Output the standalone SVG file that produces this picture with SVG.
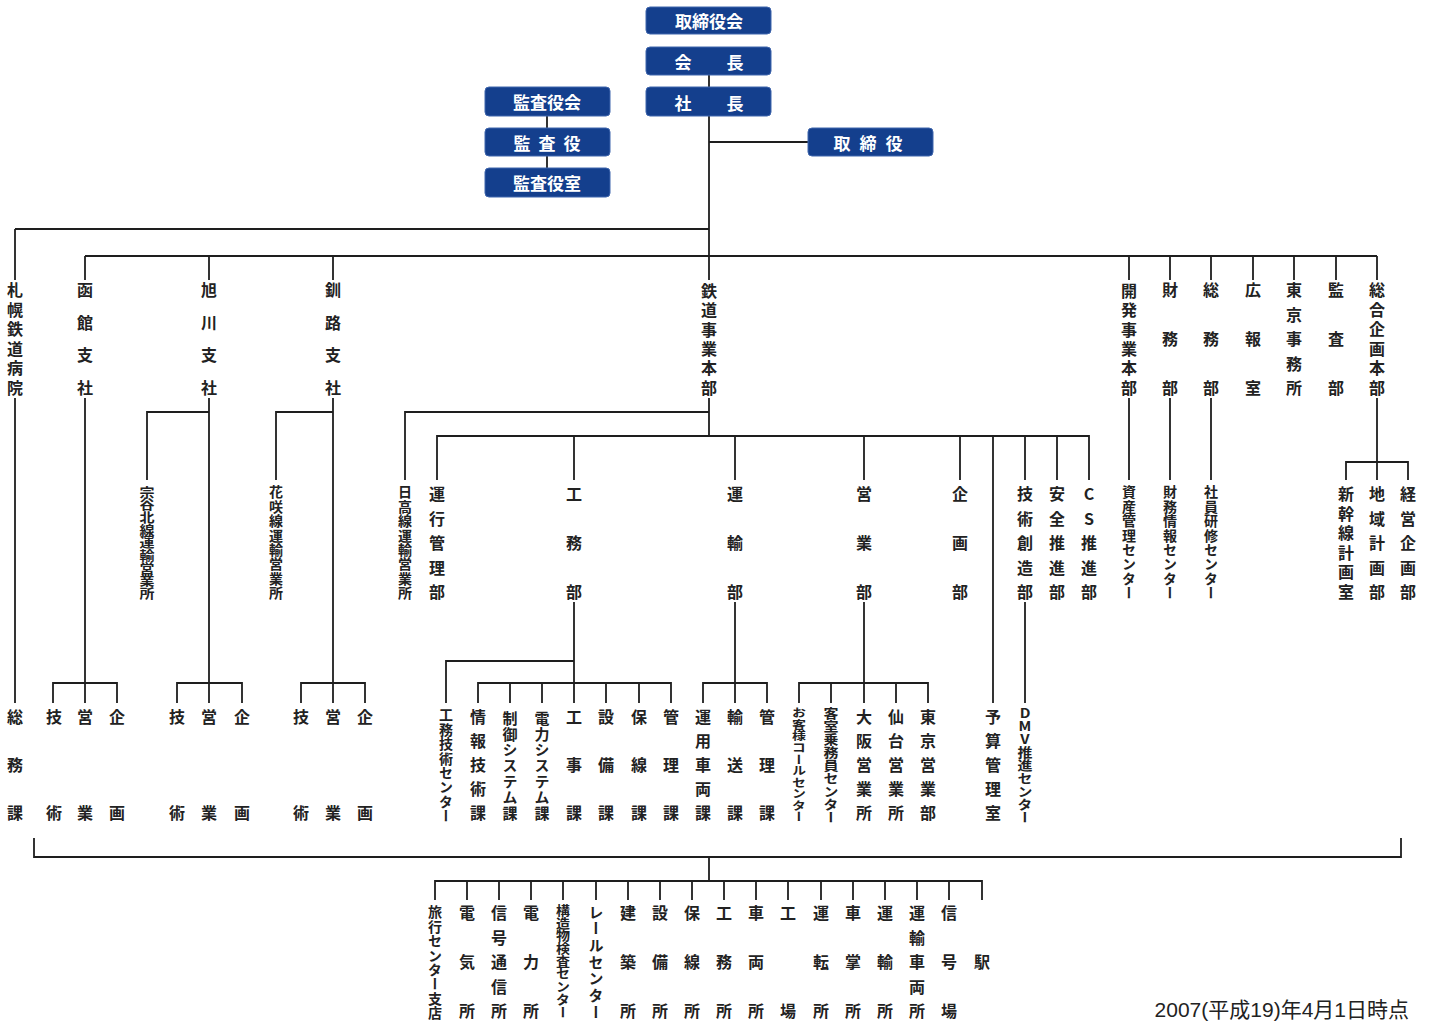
<svg xmlns="http://www.w3.org/2000/svg" width="1429" height="1021" viewBox="0 0 1429 1021">
<style>
.bx{fill:#143f8d;stroke:#3f66ad;stroke-width:1}
.bt{fill:#fff;font-family:"Noto Sans CJK JP",sans-serif;font-size:17px;font-weight:bold;text-anchor:middle;dominant-baseline:central}
.v{fill:#222;font-family:"Noto Sans CJK JP",sans-serif;font-size:16px;font-weight:bold;writing-mode:vertical-rl;text-orientation:upright}
.v tspan{letter-spacing:0}
.s14{font-size:14px}.s15{font-size:15px}
#connectors path{stroke:#1e1e1e;stroke-width:1.8;fill:none}
.ft{fill:#222;font-family:"Liberation Sans","Noto Sans CJK JP",sans-serif;font-size:21px;text-anchor:end}
</style>
<rect width="1429" height="1021" fill="#fff"/>
<g id="connectors">
<path d="M709 75V87M547 116V128M547 156V168M709 116V280M709 142H808M15 229H709M15 229V280M85 256H1377"/>
<path d="M85 256V280M209 256V280M333 256V280M1129 256V280M1170 256V280M1211 256V280M1253 256V280M1294 256V280M1336 256V280M1377 256V280"/>
<path d="M15 398V703M85 398V703M53 703V683H117V703M209 398V703M177 703V683H242V703M333 398V703M301 703V683H365V703"/>
<path d="M209 412H147V480M333 412H276V480M709 398V436M709 412H405V480M437 480V436H1089V480"/>
<path d="M574 436V480M735 436V480M864 436V480M960 436V480M993 436V703M1025 436V480M1057 436V480"/>
<path d="M1129 398V480M1170 398V480M1211 398V480M1377 398V480M1346 480V462H1408V480"/>
<path d="M574 602V703M446 703V661H574M478 703V683H671V703M510 683V703M542 683V703M606 683V703M639 683V703"/>
<path d="M735 602V703M703 703V683H767V703M864 602V703M799 703V683H928V703M831 683V703M896 683V703M1025 602V703"/>
<path d="M34 838V857H1401V838M709 857V881M435 900V881H982V900"/>
<path d="M467 881V900M499 881V900M531 881V900M563 881V900M596 881V900M628 881V900M660 881V900M692 881V900M724 881V900M756 881V900M788 881V900M821 881V900M853 881V900M885 881V900M917 881V900M949 881V900"/>
</g>
<g id="torishimariyakukai"><rect class="bx" x="646" y="7" width="125" height="27" rx="4"/><text class="bt" x="709" y="20.5">取締役会</text></g>
<g id="kaicho"><rect class="bx" x="646" y="47" width="125" height="28" rx="4"/><text class="bt" y="61"><tspan x="683">会</tspan><tspan x="735">長</tspan></text></g>
<g id="shacho"><rect class="bx" x="646" y="87" width="125" height="29" rx="4"/><text class="bt" y="101.5"><tspan x="683">社</tspan><tspan x="735">長</tspan></text></g>
<g id="kansayakukai"><rect class="bx" x="485" y="87" width="125" height="29" rx="4"/><text class="bt" x="547" y="101.5">監査役会</text></g>
<g id="kansayaku"><rect class="bx" x="485" y="128" width="125" height="28" rx="4"/><text class="bt" y="142"><tspan x="522">監</tspan><tspan x="547">査</tspan><tspan x="572">役</tspan></text></g>
<g id="kansayakushitsu"><rect class="bx" x="485" y="168" width="125" height="29" rx="4"/><text class="bt" x="547" y="182.5">監査役室</text></g>
<g id="torishimariyaku"><rect class="bx" x="808" y="128" width="125" height="28" rx="4"/><text class="bt" y="142"><tspan x="842">取</tspan><tspan x="868">締</tspan><tspan x="894">役</tspan></text></g>

<g id="row1">
<g id="sapporo-byoin"><text class="v" x="15" y="282" style="letter-spacing:3.6px">札幌鉄道病<tspan>院</tspan></text></g>
<g id="hakodate"><text class="v" x="85" y="282" style="letter-spacing:16.67px">函館支<tspan>社</tspan></text></g>
<g id="asahikawa"><text class="v" x="209" y="282" style="letter-spacing:16.67px">旭川支<tspan>社</tspan></text></g>
<g id="kushiro"><text class="v" x="333" y="282" style="letter-spacing:16.67px">釧路支<tspan>社</tspan></text></g>
<g id="tetsudo"><text class="v" x="709" y="283" style="letter-spacing:3.3px">鉄道事業本<tspan>部</tspan></text></g>
<g id="kaihatsu"><text class="v" x="1129" y="283" style="letter-spacing:3.3px">開発事業本<tspan>部</tspan></text></g>
<g id="zaimu"><text class="v" x="1170" y="282" style="letter-spacing:33px">財務<tspan>部</tspan></text></g>
<g id="somu"><text class="v" x="1211" y="282" style="letter-spacing:33px">総務<tspan>部</tspan></text></g>
<g id="koho"><text class="v" x="1253" y="282" style="letter-spacing:33px">広報<tspan>室</tspan></text></g>
<g id="tokyo-jimusho"><text class="v" x="1294" y="282" style="letter-spacing:8.5px">東京事務<tspan>所</tspan></text></g>
<g id="kansa"><text class="v" x="1336" y="282" style="letter-spacing:33px">監査<tspan>部</tspan></text></g>
<g id="sogokikaku"><text class="v" x="1377" y="282" style="letter-spacing:3.6px">総合企画本<tspan>部</tspan></text></g>
</g>

<g id="row2">
<g id="soya"><text class="v s15" transform="translate(147,485.7) scale(1,0.842)" x="0" y="0" style="letter-spacing:0">宗谷北線運輸営業<tspan>所</tspan></text></g>
<g id="hanasaki"><text class="v s14" x="276" y="485" style="letter-spacing:0.43px">花咲線運輸営業<tspan>所</tspan></text></g>
<g id="hidaka"><text class="v s14" x="405" y="485" style="letter-spacing:0.43px">日高線運輸営業<tspan>所</tspan></text></g>
<g id="unkokanri"><text class="v" x="437" y="486" style="letter-spacing:8.5px">運行管理<tspan>部</tspan></text></g>
<g id="komu"><text class="v" x="574" y="486" style="letter-spacing:33px">工務<tspan>部</tspan></text></g>
<g id="unyu"><text class="v" x="735" y="486" style="letter-spacing:33px">運輸<tspan>部</tspan></text></g>
<g id="eigyo"><text class="v" x="864" y="486" style="letter-spacing:33px">営業<tspan>部</tspan></text></g>
<g id="kikaku"><text class="v" x="960" y="486" style="letter-spacing:33px">企画<tspan>部</tspan></text></g>
<g id="gijutsusozo"><text class="v" x="1025" y="486" style="letter-spacing:8.5px">技術創造<tspan>部</tspan></text></g>
<g id="anzen"><text class="v" x="1057" y="486" style="letter-spacing:8.5px">安全推進<tspan>部</tspan></text></g>
<g id="cs"><text class="v" x="1089" y="486" style="letter-spacing:8.5px">CS推進<tspan>部</tspan></text></g>
<g id="shisan"><text class="v s14" x="1129" y="485" style="letter-spacing:0.43px">資産管理センタ<tspan>ー</tspan></text></g>
<g id="zaimujoho"><text class="v s14" x="1170" y="485" style="letter-spacing:0.43px">財務情報センタ<tspan>ー</tspan></text></g>
<g id="shainkenshu"><text class="v s14" x="1211" y="485" style="letter-spacing:0.43px">社員研修センタ<tspan>ー</tspan></text></g>
<g id="shinkansen"><text class="v" x="1346" y="486" style="letter-spacing:3.6px">新幹線計画<tspan>室</tspan></text></g>
<g id="chiiki"><text class="v" x="1377" y="486" style="letter-spacing:8.5px">地域計画<tspan>部</tspan></text></g>
<g id="keiei"><text class="v" x="1408" y="486" style="letter-spacing:8.5px">経営企画<tspan>部</tspan></text></g>
</g>

<g id="row3">
<g id="somuka"><text class="v" x="15" y="709" style="letter-spacing:32px">総務<tspan>課</tspan></text></g>
<g id="hk-gijutsu"><text class="v" x="54" y="709" style="letter-spacing:80px">技<tspan>術</tspan></text></g>
<g id="hk-eigyo"><text class="v" x="85" y="709" style="letter-spacing:80px">営<tspan>業</tspan></text></g>
<g id="hk-kikaku"><text class="v" x="117" y="709" style="letter-spacing:80px">企<tspan>画</tspan></text></g>
<g id="ak-gijutsu"><text class="v" x="177" y="709" style="letter-spacing:80px">技<tspan>術</tspan></text></g>
<g id="ak-eigyo"><text class="v" x="209" y="709" style="letter-spacing:80px">営<tspan>業</tspan></text></g>
<g id="ak-kikaku"><text class="v" x="242" y="709" style="letter-spacing:80px">企<tspan>画</tspan></text></g>
<g id="ks-gijutsu"><text class="v" x="301" y="709" style="letter-spacing:80px">技<tspan>術</tspan></text></g>
<g id="ks-eigyo"><text class="v" x="333" y="709" style="letter-spacing:80px">営<tspan>業</tspan></text></g>
<g id="ks-kikaku"><text class="v" x="365" y="709" style="letter-spacing:80px">企<tspan>画</tspan></text></g>
<g id="komugijutsu"><text class="v s14" x="446" y="708" style="letter-spacing:0.43px">工務技術センタ<tspan>ー</tspan></text></g>
<g id="johogijutsu"><text class="v" x="478" y="709" style="letter-spacing:8px">情報技術<tspan>課</tspan></text></g>
<g id="seigyo"><text class="v s15" x="510" y="710.5" style="letter-spacing:0.83px">制御システム<tspan>課</tspan></text></g>
<g id="denryokusys"><text class="v s15" x="542" y="710.5" style="letter-spacing:0.83px">電力システム<tspan>課</tspan></text></g>
<g id="koji"><text class="v" x="574" y="709" style="letter-spacing:32px">工事<tspan>課</tspan></text></g>
<g id="setsubi"><text class="v" x="606" y="709" style="letter-spacing:32px">設備<tspan>課</tspan></text></g>
<g id="hosen"><text class="v" x="639" y="709" style="letter-spacing:32px">保線<tspan>課</tspan></text></g>
<g id="komu-kanri"><text class="v" x="671" y="709" style="letter-spacing:32px">管理<tspan>課</tspan></text></g>
<g id="unyosharyo"><text class="v" x="703" y="709" style="letter-spacing:8px">運用車両<tspan>課</tspan></text></g>
<g id="yuso"><text class="v" x="735" y="709" style="letter-spacing:32px">輸送<tspan>課</tspan></text></g>
<g id="unyu-kanri"><text class="v" x="767" y="709" style="letter-spacing:32px">管理<tspan>課</tspan></text></g>
<g id="callcenter"><text class="v s14" transform="translate(799,707.2) scale(1,0.826)" x="0" y="0" style="letter-spacing:0">お客様コールセンタ<tspan>ー</tspan></text></g>
<g id="kyakushitsu"><text class="v s15" transform="translate(831,706.5) scale(1,0.867)" x="0" y="0" style="letter-spacing:0">客室乗務員センタ<tspan>ー</tspan></text></g>
<g id="osaka"><text class="v" x="864" y="709" style="letter-spacing:8px">大阪営業<tspan>所</tspan></text></g>
<g id="sendai"><text class="v" x="896" y="709" style="letter-spacing:8px">仙台営業<tspan>所</tspan></text></g>
<g id="tokyo-eigyo"><text class="v" x="928" y="709" style="letter-spacing:8px">東京営業<tspan>部</tspan></text></g>
<g id="yosan"><text class="v" x="993" y="709" style="letter-spacing:8px">予算管理<tspan>室</tspan></text></g>
<g id="dmv"><text class="v s15" transform="translate(1025,706.5) scale(1,0.867)" x="0" y="0" style="letter-spacing:0">DMV推進センタ<tspan>ー</tspan></text></g>
</g>

<g id="row4">
<g id="ryoko"><text class="v s14" x="435" y="905" style="letter-spacing:0.43px">旅行センター支<tspan>店</tspan></text></g>
<g id="denki"><text class="v" x="467" y="905" style="letter-spacing:33px">電気<tspan>所</tspan></text></g>
<g id="shingotsushin"><text class="v" x="499" y="905" style="letter-spacing:8.5px">信号通信<tspan>所</tspan></text></g>
<g id="denryoku"><text class="v" x="531" y="905" style="letter-spacing:33px">電力<tspan>所</tspan></text></g>
<g id="kozobutsu"><text class="v s14" transform="translate(563,903.6) scale(1,0.91)" x="0" y="0" style="letter-spacing:0">構造物検査センタ<tspan>ー</tspan></text></g>
<g id="rail"><text class="v s15" x="596" y="904.5" style="letter-spacing:1.67px">レールセンタ<tspan>ー</tspan></text></g>
<g id="kenchiku"><text class="v" x="628" y="905" style="letter-spacing:33px">建築<tspan>所</tspan></text></g>
<g id="setsubisho"><text class="v" x="660" y="905" style="letter-spacing:33px">設備<tspan>所</tspan></text></g>
<g id="hosensho"><text class="v" x="692" y="905" style="letter-spacing:33px">保線<tspan>所</tspan></text></g>
<g id="komusho"><text class="v" x="724" y="905" style="letter-spacing:33px">工務<tspan>所</tspan></text></g>
<g id="sharyosho"><text class="v" x="756" y="905" style="letter-spacing:33px">車両<tspan>所</tspan></text></g>
<g id="kojo"><text class="v" x="788" y="905" style="letter-spacing:82px">工<tspan>場</tspan></text></g>
<g id="untensho"><text class="v" x="821" y="905" style="letter-spacing:33px">運転<tspan>所</tspan></text></g>
<g id="shashosho"><text class="v" x="853" y="905" style="letter-spacing:33px">車掌<tspan>所</tspan></text></g>
<g id="unyusho"><text class="v" x="885" y="905" style="letter-spacing:33px">運輸<tspan>所</tspan></text></g>
<g id="unyusharyo"><text class="v" x="917" y="905" style="letter-spacing:8.5px">運輸車両<tspan>所</tspan></text></g>
<g id="shingojo"><text class="v" x="949" y="905" style="letter-spacing:33px">信号<tspan>場</tspan></text></g>
<g id="eki"><text class="v" x="982" y="954">駅</text></g>
</g>
<text class="ft" x="1409" y="1017">2007(平成19)年4月1日時点</text>
</svg>
